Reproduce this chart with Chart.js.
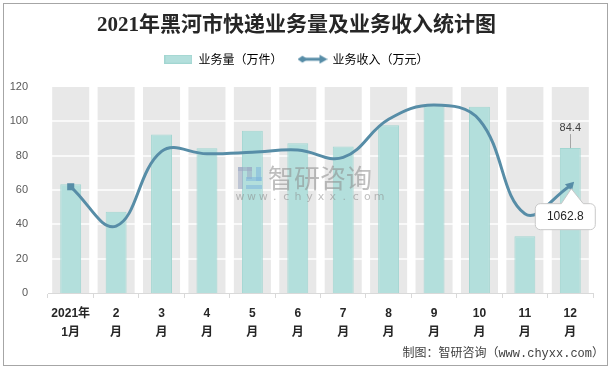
<!DOCTYPE html>
<html lang="zh-CN">
<head>
<meta charset="UTF-8">
<title>2021年黑河市快递业务量及业务收入统计图</title>
<script src="https://cdn.jsdelivr.net/npm/chart.js@4.4.1/dist/chart.umd.min.js"></script>
<style>
  html, body { margin: 0; padding: 0; background: #fff; }
  .chart-box { position: relative; width: 614px; height: 369px; }
</style>
</head>
<body>
<div class="chart-box"><canvas id="expressChart"></canvas></div>
<script>
// values
const months = [['2021年', '1月'], ['2', '月'], ['3', '月'], ['4', '月'], ['5', '月'], ['6', '月'],
                ['7', '月'], ['8', '月'], ['9', '月'], ['10', '月'], ['11', '月'], ['12', '月']];
const volume = [63.3, 47.4, 92.4, 84.3, 94.5, 87.2, 85.4, 97.7, 109.3, 108.5, 33.0, 84.4];      // 业务量（万件）
const revenue = [1052, 663, 1402, 1379, 1394, 1416, 1343, 1720, 1862, 1714, 785, 1062.8];     // 业务收入（万元）
const bandTop = [120, 120, 120, 120, 120, 120, 120, 120, 120, 120, 120, 120];                 // grey column backdrop
const yTicks = [0, 20, 40, 60, 80, 100, 120];
const revenueAxisMax = 2040; // hidden secondary axis

const lineColor = '#578da7';
const barFill = '#b3dfdc';
const barEdge = '#a2d6d1';

function makeBarSwatch() {
    const c = document.createElement('canvas');
    c.width = 28; c.height = 9;
    const g = c.getContext('2d');
    g.fillStyle = barFill;
    g.fillRect(0, 0, 28, 9);
    g.strokeStyle = barEdge;
    g.strokeRect(0.5, 0.5, 27, 8);
    return c;
}

function makeArrowSwatch() {
    const c = document.createElement('canvas');
    c.width = 30; c.height = 10;
    const g = c.getContext('2d');
    g.strokeStyle = lineColor;
    g.fillStyle = lineColor;
    g.lineWidth = 3;
    g.beginPath(); g.moveTo(5, 5); g.lineTo(25, 5); g.stroke();
    g.beginPath(); g.moveTo(0, 5); g.lineTo(5, 1.5); g.lineTo(10, 5); g.lineTo(5, 8.5); g.closePath(); g.fill();
    g.beginPath(); g.moveTo(30, 5); g.lineTo(22, 0.5); g.lineTo(22, 9.5); g.closePath(); g.fill();
    return c;
}

// white grid lines go over the grey columns but under the teal bars
const bandGrid = {
    id: 'bandGrid',
    afterDatasetDraw(chart, args) {
        if (args.index !== 0) return;
        const { ctx, chartArea } = chart;
        const y = chart.scales.y;
        ctx.save();
        ctx.strokeStyle = '#ffffff';
        ctx.lineWidth = 1.5;
        y.ticks.forEach(t => {
            if (t.value <= 0 || t.value >= 120) return;
            const py = Math.round(y.getPixelForValue(t.value));
            ctx.beginPath();
            ctx.moveTo(chartArea.left, py);
            ctx.lineTo(chartArea.right, py);
            ctx.stroke();
        });
        ctx.restore();
    }
};

// faint watermark, drawn after the bars and before the line
const watermark = {
    id: 'watermark',
    afterDatasetDraw(chart, args) {
        if (args.index !== 1) return;
        const ctx = chart.ctx;
        ctx.save();
        ctx.globalAlpha = 0.55;
        // little logo
        ctx.fillStyle = '#9aa7c2';
        ctx.fillRect(238, 167, 5, 22);
        ctx.fillRect(238, 167, 14, 4);
        ctx.fillRect(247, 167, 5, 12);
        ctx.fillStyle = '#7db4dc';
        ctx.fillRect(246, 177, 16, 4);
        ctx.fillRect(256, 167, 5, 14);
        ctx.fillRect(246, 185, 16, 4);
        ctx.fillStyle = '#8a8a8a';
        ctx.font = '26px "Noto Sans CJK SC"';
        ctx.textAlign = 'left';
        ctx.textBaseline = 'middle';
        ctx.fillText('智研咨询', 268, 178);
        ctx.font = '11px "DejaVu Sans"';
        const url = 'www.chyxx.com';
        const step = (377 - 238) / (url.length - 1);
        for (let i = 0; i < url.length; i++) {
            ctx.textAlign = 'center';
            ctx.fillText(url[i], 240 + i * step, 197);
        }
        ctx.restore();
    }
};

// data label on the last bar and the callout on the last line point
const annotations = {
    id: 'annotations',
    afterDatasetsDraw(chart) {
        const ctx = chart.ctx;
        const last = volume.length - 1;
        const bar = chart.getDatasetMeta(1).data[last];
        const pt = chart.getDatasetMeta(2).data[last];
        ctx.save();

        ctx.strokeStyle = '#a6a6a6';
        ctx.lineWidth = 1;
        ctx.beginPath();
        ctx.moveTo(Math.round(bar.x) + 0.5, bar.y - 14);
        ctx.lineTo(Math.round(bar.x) + 0.5, bar.y);
        ctx.stroke();
        ctx.fillStyle = '#404040';
        ctx.font = '11px "Liberation Sans"';
        ctx.textAlign = 'center';
        ctx.textBaseline = 'middle';
        ctx.fillText(String(volume[last]), bar.x, bar.y - 20);

        const bx = pt.x - 35, by = pt.y + 18, bw = 60, bh = 26, r = 5;
        ctx.beginPath();
        ctx.moveTo(bx + r, by);
        ctx.lineTo(pt.x - 9, by);
        ctx.lineTo(pt.x + 1, pt.y + 3);
        ctx.lineTo(pt.x + 13, by);
        ctx.lineTo(bx + bw - r, by);
        ctx.arcTo(bx + bw, by, bx + bw, by + r, r);
        ctx.lineTo(bx + bw, by + bh - r);
        ctx.arcTo(bx + bw, by + bh, bx + bw - r, by + bh, r);
        ctx.lineTo(bx + r, by + bh);
        ctx.arcTo(bx, by + bh, bx, by + bh - r, r);
        ctx.lineTo(bx, by + r);
        ctx.arcTo(bx, by, bx + r, by, r);
        ctx.closePath();
        ctx.fillStyle = '#ffffff';
        ctx.fill();
        ctx.strokeStyle = '#c8c8c8';
        ctx.stroke();
        ctx.fillStyle = '#262626';
        ctx.font = '12px "Liberation Sans"';
        ctx.fillText(String(revenue[last]), bx + bw / 2, by + bh / 2 + 0.5);
        ctx.restore();
    }
};

const frameAndCredit = {
    id: 'frameAndCredit',
    afterDraw(chart) {
        const ctx = chart.ctx;
        ctx.save();
        ctx.strokeStyle = '#a6a6a6';
        ctx.lineWidth = 1;
        ctx.strokeRect(3.5, 3.5, 604, 362);
        ctx.fillStyle = '#404040';
        ctx.font = '12px "Liberation Mono", "Noto Sans CJK SC"';
        ctx.textAlign = 'right';
        ctx.textBaseline = 'middle';
        ctx.fillText('制图：智研咨询（www.chyxx.com）', 604, 354);
        ctx.restore();
    }
};

new Chart(document.getElementById('expressChart'), {
    data: {
        labels: months,
        datasets: [
            {
                type: 'bar',
                label: 'band',
                data: bandTop,
                backgroundColor: '#e8e8e8',
                borderWidth: 0,
                grouped: false,
                barPercentage: 0.815,
                categoryPercentage: 1,
                order: 3,
                yAxisID: 'y'
            },
            {
                type: 'bar',
                label: '业务量（万件）',
                data: volume,
                backgroundColor: barFill,
                borderColor: barEdge,
                borderWidth: 1,
                grouped: false,
                barPercentage: 0.46,
                categoryPercentage: 1,
                order: 2,
                yAxisID: 'y'
            },
            {
                type: 'line',
                label: '业务收入（万元）',
                data: revenue,
                borderColor: lineColor,
                backgroundColor: lineColor,
                borderWidth: 3,
                tension: 0.4,
                pointStyle: ['rect', false, false, false, false, false, false, false, false, false, false, 'triangle'],
                pointRadius: [5, 0, 0, 0, 0, 0, 0, 0, 0, 0, 0, 5.5],
                pointRotation: [0, 0, 0, 0, 0, 0, 0, 0, 0, 0, 0, 44],
                pointBorderWidth: 0,
                order: 1,
                yAxisID: 'y1'
            }
        ]
    },
    options: {
        responsive: true,
        maintainAspectRatio: false,
        animation: false,
        events: [],
        layout: { padding: { left: 0, right: 21, top: 0, bottom: 0 } },
        plugins: {
            title: {
                display: true,
                text: '2021年黑河市快递业务量及业务收入统计图',
                color: '#262626',
                font: { family: '"Liberation Serif", "Noto Sans CJK SC"', size: 21, weight: 'bold' },
                padding: { top: 13, bottom: 5 }
            },
            subtitle: {
                display: true,
                text: ' ',
                weight: 500,
                font: { size: 1 },
                padding: { top: 5.3, bottom: 5.3 }
            },
            legend: {
                display: true,
                position: 'top',
                labels: {
                    usePointStyle: true,
                    pointStyleWidth: 28,
                    padding: 10,
                    color: '#404040',
                    font: { family: '"Noto Sans CJK SC"', size: 12 },
                    generateLabels: () => [
                        { text: '业务量（万件）　', pointStyle: makeBarSwatch(), fillStyle: barFill, strokeStyle: barEdge, lineWidth: 0, hidden: false, datasetIndex: 1 },
                        { text: '业务收入（万元）', pointStyle: makeArrowSwatch(), fillStyle: lineColor, strokeStyle: lineColor, lineWidth: 0, hidden: false, datasetIndex: 2 }
                    ]
                }
            },
            tooltip: { enabled: false }
        },
        scales: {
            x: {
                offset: true,
                grid: { display: true, drawOnChartArea: false, drawTicks: true, tickLength: 5, color: '#d9d9d9', offset: true },
                border: { display: true, color: '#d9d9d9' },
                ticks: {
                    autoSkip: false,
                    maxRotation: 0,
                    padding: 6,
                    color: '#262626',
                    font: { family: '"Liberation Sans", "Noto Sans CJK SC"', size: 12, weight: 'bold', lineHeight: 1.6 }
                },
                afterFit(scale) { scale.height = 76; }
            },
            y: {
                min: yTicks[0],
                max: yTicks[yTicks.length - 1],
                grid: { display: false },
                border: { display: false },
                ticks: {
                    stepSize: yTicks[1] - yTicks[0],
                    padding: 12,
                    color: '#595959',
                    font: { family: '"Liberation Sans"', size: 11 }
                },
                afterFit(scale) { scale.width = 48; }
            },
            y1: {
                display: false,
                min: 0,
                max: revenueAxisMax
            }
        }
    },
    plugins: [bandGrid, watermark, annotations, frameAndCredit]
});
</script>
</body>
</html>
